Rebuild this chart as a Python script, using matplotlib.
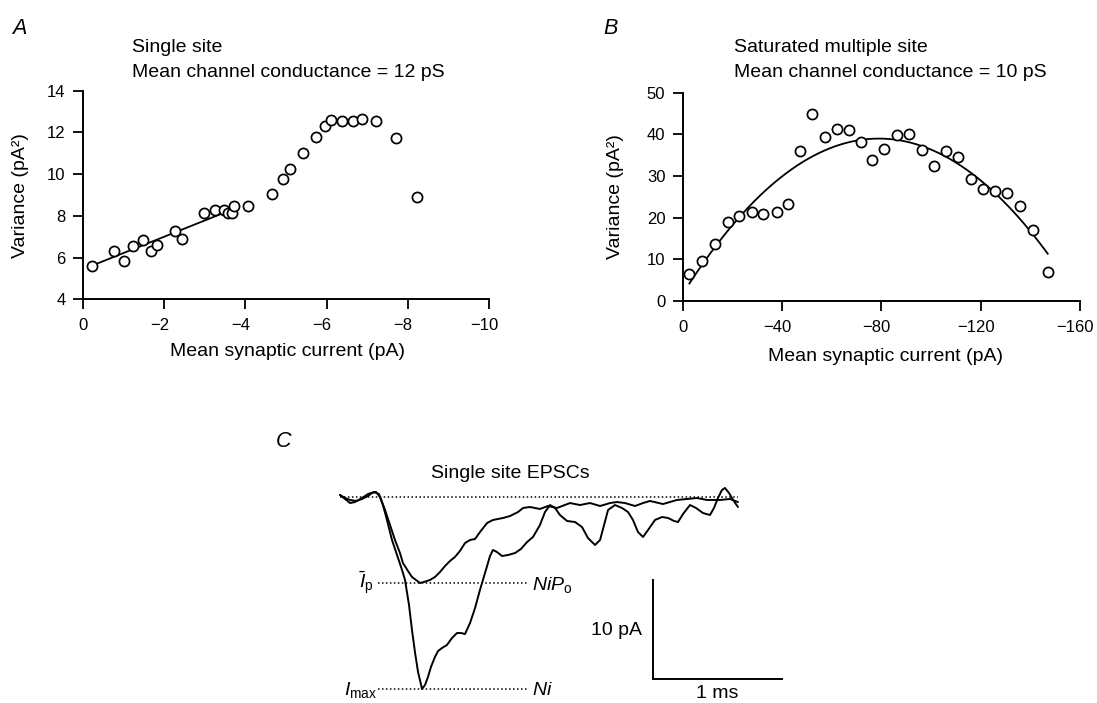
import matplotlib
matplotlib.use("Agg")
import matplotlib.pyplot as plt
import matplotlib.transforms as mtransforms
import numpy as np

plt.rcParams['font.family'] = ['Liberation Sans', 'DejaVu Sans']
plt.rcParams['mathtext.fontset'] = 'custom'
plt.rcParams['mathtext.rm'] = 'Liberation Sans'
plt.rcParams['mathtext.it'] = 'Liberation Sans:italic'
plt.rcParams['mathtext.bf'] = 'Liberation Sans:bold'
plt.rcParams['axes.unicode_minus'] = True

# ---------------- data ----------------
# Panel A: single site
A_current = [-0.23, -0.76, -1.01, -1.24, -1.48, -1.67, -1.82, -2.27, -2.45, -2.97,
             -3.26, -3.47, -3.56, -3.67, -3.73, -4.07, -4.66, -4.92, -5.11, -5.43,
             -5.75, -5.95, -6.10, -6.37, -6.65, -6.88, -7.21, -7.70, -8.22]
A_variance = [5.60, 6.32, 5.82, 6.56, 6.86, 6.32, 6.62, 7.28, 6.90, 8.16,
              8.30, 8.27, 8.14, 8.14, 8.45, 8.46, 9.04, 9.79, 10.26, 11.00,
              11.79, 12.32, 12.60, 12.53, 12.56, 12.62, 12.56, 11.75, 8.91]
A_fit_intercept = 5.44
A_fit_slope = 0.78          # variance per pA of |I|
A_fit_range = (-0.18, -3.70)
A_xticks = [0, -2, -4, -6, -8, -10]
A_yticks = [4, 6, 8, 10, 12, 14]

# Panel B: saturated multiple site
B_current = [-2.7, -7.9, -13.0, -18.1, -22.8, -28.1, -32.3, -38.1, -42.6, -47.4,
             -52.2, -57.2, -62.0, -67.1, -71.8, -76.2, -81.2, -86.4, -91.3, -96.2,
             -101.1, -105.9, -111.0, -116.0, -120.8, -125.6, -130.5, -136.0, -141.2, -147.0]
B_variance = [6.5, 9.5, 13.6, 18.9, 20.4, 21.4, 21.0, 21.3, 23.2, 36.0,
              45.0, 39.4, 41.3, 41.0, 38.1, 33.9, 36.4, 39.8, 40.1, 36.2,
              32.4, 36.1, 34.6, 29.2, 26.9, 26.4, 26.0, 22.9, 17.0, 7.0]
B_fit_c, B_fit_i, B_fit_k = 1.70, 0.944, 0.005975   # var = c + i|I| - k|I|^2
B_fit_range = (-2.7, -147.0)
B_xticks = [0, -40, -80, -120, -160]
B_yticks = [0, 10, 20, 30, 40, 50]

# Panel C: single site EPSCs (time in ms, current in pA)
C1_time = [0, 0.039, 0.078, 0.116, 0.171, 0.217, 0.264, 0.302, 0.333, 0.364,
           0.403, 0.442, 0.481, 0.504, 0.535, 0.558, 0.581, 0.605, 0.636, 0.659,
           0.682, 0.705, 0.736, 0.760, 0.791, 0.829, 0.868, 0.907, 0.938, 0.969,
           1.008, 1.047, 1.085, 1.124, 1.163, 1.186, 1.217, 1.256, 1.302, 1.357,
           1.403, 1.450, 1.496, 1.550, 1.589, 1.628, 1.667, 1.705, 1.760, 1.822,
           1.876, 1.922, 1.977, 2.016, 2.047, 2.078, 2.132, 2.186, 2.233, 2.271,
           2.310, 2.349, 2.388, 2.442, 2.496, 2.543, 2.589, 2.620, 2.659, 2.713,
           2.760, 2.814, 2.868, 2.899, 2.930, 2.961, 2.984, 3.016, 3.047, 3.085]
C1_current = [0.20, -0.20, -0.61, -0.51, -0.10, 0.30, 0.51, 0.30, -0.81, -2.32,
              -4.34, -5.86, -7.37, -8.38, -10.91, -13.43, -15.66, -17.68, -19.39, -18.99,
              -18.18, -17.17, -16.16, -15.56, -15.25, -14.95, -14.24, -13.74, -13.74, -13.84,
              -12.73, -11.21, -9.39, -7.68, -5.96, -5.35, -5.56, -5.96, -5.86, -5.66,
              -5.25, -4.55, -4.04, -2.83, -1.52, -0.81, -1.11, -1.82, -2.42, -2.53,
              -3.03, -4.14, -4.85, -4.34, -2.83, -1.31, -0.81, -1.11, -1.52, -2.32,
              -3.54, -4.04, -3.33, -2.32, -2.02, -2.12, -2.42, -2.53, -1.72, -0.81,
              -1.11, -1.62, -1.82, -1.11, -0.10, 0.71, 0.91, 0.40, -0.30, -1.01]
C2_time = [0, 0.039, 0.078, 0.124, 0.171, 0.217, 0.248, 0.279, 0.310, 0.349,
           0.388, 0.426, 0.465, 0.488, 0.527, 0.558, 0.589, 0.620, 0.659, 0.698,
           0.736, 0.775, 0.814, 0.853, 0.891, 0.930, 0.969, 1.008, 1.047, 1.085,
           1.140, 1.186, 1.264, 1.318, 1.380, 1.419, 1.473, 1.550, 1.612, 1.682,
           1.783, 1.860, 1.938, 2.016, 2.093, 2.147, 2.209, 2.287, 2.349, 2.403,
           2.504, 2.612, 2.767, 2.845, 2.946, 3.023, 3.085]
C2_current = [0.20, -0.10, -0.30, -0.40, -0.20, 0.10, 0.40, 0.51, 0.0, -1.31,
              -2.83, -4.34, -5.66, -6.67, -7.47, -8.08, -8.38, -8.69, -8.55, -8.38,
              -8.08, -7.58, -6.97, -6.46, -6.06, -5.45, -4.65, -4.34, -4.24, -3.54,
              -2.63, -2.32, -2.12, -1.92, -1.52, -1.11, -1.01, -1.21, -0.91, -1.11,
              -0.61, -0.81, -0.61, -0.91, -0.61, -0.51, -0.61, -0.91, -0.61, -0.40,
              -0.71, -0.30, -0.10, -0.30, -0.30, -0.20, -0.51]
C_Ip = -8.69
C_Imax = -19.39
C_level_range = (0.297, 1.447)
C_baseline_range = (0.0, 3.085)
C_scale_origin = (2.426, -18.38)
C_scale_pA = 10
C_scale_ms = 1

# ---------------- figure ----------------
W, H = 1097, 703
fig = plt.figure(figsize=(W / 100, H / 100), dpi=100)

def fx(px):
    return px / W

def fy(py):
    return 1 - py / H

TICK_FS = 12
LAB_FS = 14

def fmt(v):
    return ('\u2212' + str(abs(v))) if v < 0 else str(v)

def style_axes(ax, xticks, yticks):
    for s in ['top', 'right']:
        ax.spines[s].set_visible(False)
    for s in ['left', 'bottom']:
        ax.spines[s].set_linewidth(1.4)
    ax.set_xticks(xticks)
    ax.set_xticklabels([fmt(v) for v in xticks])
    ax.set_yticks(yticks)
    ax.set_yticklabels([fmt(v) for v in yticks])
    ax.tick_params(direction='out', length=7.5, width=1.3, labelsize=TICK_FS)
    ax.tick_params(axis='x', pad=6)
    ax.tick_params(axis='y', pad=5)
    # centre the digits (not the minus sign) under each tick
    shift = -0.292 * TICK_FS / 72.0
    for v, lab in zip(xticks, ax.get_xticklabels()):
        if v < 0:
            lab.set_transform(lab.get_transform() +
                              mtransforms.ScaledTranslation(shift, 0, fig.dpi_scale_trans))

MK = dict(marker='o', linestyle='none', ms=7.3, mfc='white', mec='black', mew=1.25,
          clip_on=False, zorder=3)

# Panel A
axA = fig.add_axes([fx(83), fy(299.3), fx(489) - fx(83), (299.3 - 90.7) / H])
axA.plot(A_current, A_variance, **MK)
xa = np.array(A_fit_range)
axA.plot(xa, A_fit_intercept + A_fit_slope * np.abs(xa), color='black', lw=1.3, zorder=2)
axA.set_xlim(0, -10)
axA.set_ylim(4, 14)
style_axes(axA, A_xticks, A_yticks)

# Panel B
axB = fig.add_axes([fx(682.7), fy(301), fx(1080) - fx(682.7), (301 - 92.7) / H])
axB.plot(B_current, B_variance, **MK)
xb = np.linspace(B_fit_range[0], B_fit_range[1], 200)
xm = np.abs(xb)
axB.plot(xb, B_fit_c + B_fit_i * xm - B_fit_k * xm ** 2, color='black', lw=1.3, zorder=2)
axB.set_xlim(0, -160)
axB.set_ylim(0, 50)
style_axes(axB, B_xticks, B_yticks)

# Panel texts
fig.text(fx(12), fy(33.5), 'A', fontsize=15.5, style='italic', va='baseline', ha='left')
fig.text(fx(603), fy(33.5), 'B', fontsize=15.5, style='italic', va='baseline', ha='left')
fig.text(fx(276), fy(447), 'C', fontsize=15.5, style='italic', va='baseline', ha='left')

fig.text(fx(131.7), fy(51.7), 'Single site', fontsize=LAB_FS, va='baseline', ha='left')
fig.text(fx(131.7), fy(76.7), 'Mean channel conductance = 12 pS', fontsize=LAB_FS,
         va='baseline', ha='left')
fig.text(fx(734), fy(51.7), 'Saturated multiple site', fontsize=LAB_FS, va='baseline', ha='left')
fig.text(fx(734), fy(76.7), 'Mean channel conductance = 10 pS', fontsize=LAB_FS,
         va='baseline', ha='left')

fig.text(fx(288), fy(356.5), 'Mean synaptic current (pA)', fontsize=LAB_FS,
         va='baseline', ha='center')
fig.text(fx(886), fy(361), 'Mean synaptic current (pA)', fontsize=LAB_FS,
         va='baseline', ha='center')
fig.text(fx(21), fy(196), 'Variance (pA\u00b2)', fontsize=LAB_FS, rotation=90,
         va='center', ha='center')
fig.text(fx(616), fy(197), 'Variance (pA\u00b2)', fontsize=LAB_FS, rotation=90,
         va='center', ha='center')

# Panel C
L, R, T, Bt = 330, 790, 470, 700
t_of = lambda px: (px - 340) / 129.0
i_of = lambda py: -(py - 497) / 9.9
axC = fig.add_axes([fx(L), fy(Bt), fx(R) - fx(L), (Bt - T) / H])
axC.set_xlim(t_of(L), t_of(R))
axC.set_ylim(i_of(Bt), i_of(T))
axC.axis('off')

dot = dict(color='black', lw=1.1, linestyle=(0, (1.0, 1.6)))
axC.plot(C_baseline_range, [0, 0], **dot)
axC.plot(C_level_range, [C_Ip, C_Ip], **dot)
axC.plot(C_level_range, [C_Imax, C_Imax], **dot)

axC.plot(C1_time, C1_current, color='black', lw=1.4, solid_joinstyle='round',
         solid_capstyle='round', clip_on=False)
axC.plot(C2_time, C2_current, color='black', lw=1.4, solid_joinstyle='round',
         solid_capstyle='round', clip_on=False)

sx, sy = C_scale_origin
axC.plot([sx, sx, sx + C_scale_ms], [sy + C_scale_pA, sy, sy], color='black', lw=1.4,
         clip_on=False, solid_joinstyle='miter')

axC.text(1.318, i_of(478), 'Single site EPSCs', fontsize=LAB_FS, ha='center', va='baseline')
axC.text(t_of(374), i_of(588), r'$\bar{I}_{\mathrm{p}}$', fontsize=LAB_FS, ha='right', va='baseline')
axC.text(t_of(377), i_of(695), r'$I_{\mathrm{max}}$', fontsize=LAB_FS, ha='right', va='baseline')
axC.text(t_of(532), i_of(590), r'$NiP_{\mathrm{o}}$', fontsize=LAB_FS, ha='left', va='baseline')
axC.text(t_of(532), i_of(695), r'$Ni$', fontsize=LAB_FS, ha='left', va='baseline')
axC.text(t_of(642), i_of(635), '10 pA', fontsize=LAB_FS, ha='right', va='baseline')
axC.text(sx + C_scale_ms / 2, i_of(698), '1 ms', fontsize=LAB_FS, ha='center', va='baseline')

fig.savefig('out.png', dpi=100)
